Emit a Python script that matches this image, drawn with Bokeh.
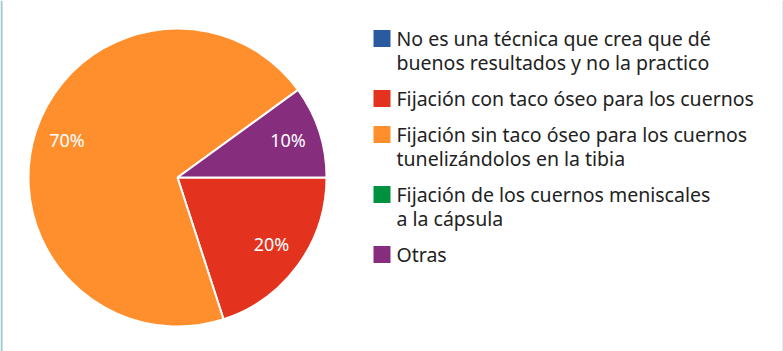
import math
from bokeh.plotting import figure
from bokeh.models import Range1d, ColumnDataSource
from bokeh.core.properties import value
from bokeh.embed import file_html
from bokeh.resources import INLINE

# ---- data ----
categories = [
    "No es una técnica que crea que dé\nbuenos resultados y no la practico",
    "Fijación con taco óseo para los cuernos",
    "Fijación sin taco óseo para los cuernos\ntunelizándolos en la tibia",
    "Fijación de los cuernos meniscales\na la cápsula",
    "Otras",
]
percents = [0, 20, 70, 0, 10]
colors = ["#2a5aa0", "#e3321e", "#ff8f2d", "#00913f", "#862d7e"]

W, H = 783, 351
p = figure(width=W, height=H, output_backend="svg", toolbar_location=None,
           x_range=Range1d(0, W), y_range=Range1d(0, H), min_border=0)
p.axis.visible = False
p.grid.visible = False
p.outline_line_color = None
p.background_fill_color = "white"
p.border_fill_color = "white"

def Y(py):
    return H - py

# ---- pie ----
cx, cy, r = 177, Y(177), 149
total = sum(percents)
starts, ends, cols, lx, ly, labs = [], [], [], [], [], []
cum = 0.0
for v, c in zip(percents, colors):
    a0 = -2 * math.pi * cum / total
    cum += v
    a1 = -2 * math.pi * cum / total
    if v > 0:
        starts.append(a0)
        ends.append(a1)
        cols.append(c)
        mid = (a0 + a1) / 2
        lx.append(cx + 0.78 * r * math.cos(mid))
        ly.append(cy + 0.78 * r * math.sin(mid) + 2)
        labs.append(f"{v}%")

src = ColumnDataSource(dict(start=starts, end=ends, color=cols))
p.wedge(x=cx, y=cy, radius=r, start_angle="start", end_angle="end",
        direction="clock", fill_color="color", line_color="white",
        line_width=2, source=src)
p.text(x=lx, y=ly, text=labs, text_color="white", text_font=value("Noto Sans"),
       text_font_size="18px", text_align="center", text_baseline="middle")

# ---- legend ----
sq_x, txt_x = 381.5, 396
line_h = 24
item_gap = 12
y_cur = 38
for cat, c in zip(categories, colors):
    lines = cat.split("\n")
    p.rect(x=sq_x, y=Y(y_cur), width=17, height=17, fill_color=c, line_color=None)
    for i, ln in enumerate(lines):
        p.text(x=txt_x, y=Y(y_cur + i * line_h), text=[ln], text_color="#222222",
               text_font=value("Noto Sans"), text_font_size="19.5px",
               text_align="left", text_baseline="middle")
    y_cur += len(lines) * line_h + item_gap

# ---- side borders ----
p.segment(x0=[1], y0=[0], x1=[1], y1=[H], line_color="#9fc5d1", line_width=2)
p.segment(x0=[782.5], y0=[0], x1=[782.5], y1=[H], line_color="#c5dde6", line_width=1)

open("out.html", "w").write(file_html(p, INLINE))
